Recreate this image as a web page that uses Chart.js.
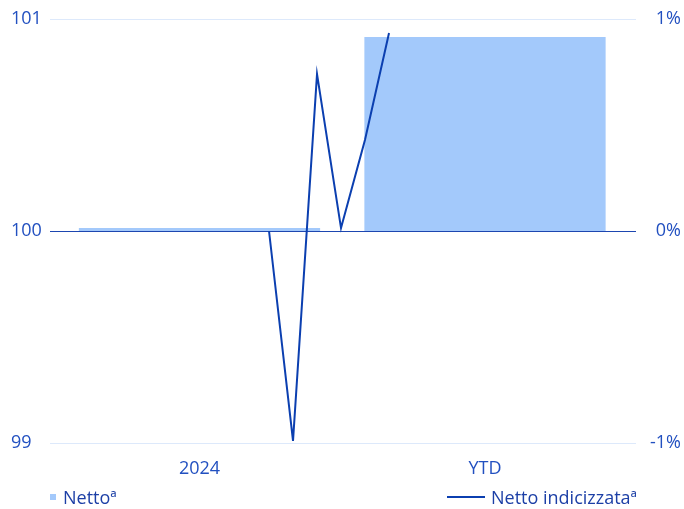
<!DOCTYPE html>
<html>
<head>
<meta charset="utf-8">
<script src="https://cdn.jsdelivr.net/npm/chart.js@4"></script>
<style>
  body { margin: 0; background: #fff; }
  #wrap { position: relative; width: 684px; height: 509px; font-family: "Open Sans", sans-serif; }
  .leg { position: absolute; font-size: 18px; color: #1c3fa6; line-height: 22px; top: 486px; }
  .sq { position: absolute; left: 50px; top: 494px; width: 6px; height: 6px; background: #a3c9fb; }
  .ln { position: absolute; left: 447px; top: 496px; width: 38px; height: 2px; background: #0b3fb0; }
</style>
</head>
<body>
<div id="wrap">
  <canvas id="c" width="684" height="509"></canvas>
  <div class="sq"></div>
  <div class="leg" style="left:63px">Netto&#170;</div>
  <div class="ln"></div>
  <div class="leg" style="left:491px">Netto indicizzata&#170;</div>
</div>
<script>
// categorie e valori
const barCats = ['2024', 'YTD'];
const nettoPct = [0.014, 0.915];            // barre, asse destro (%)
const lineSteps = [0, 1, 2, 3, 4, 5];        // punti della linea
const indicizzata = [100.0, 99.01, 100.74, 100.014, 100.43, 100.934]; // asse sinistro
const leftTicks = [99, 100, 101];
const rightTicks = [-1, 0, 1];

const tickColor = '#2250c0';
const tickFont = { family: 'Open Sans', size: 18 };

new Chart(document.getElementById('c'), {
  type: 'bar',
  data: {
    datasets: [
      {
        type: 'line',
        label: 'Netto indicizzata',
        data: lineSteps.map((s, i) => ({ x: s, y: indicizzata[i] })),
        xAxisID: 'x2',
        yAxisID: 'y',
        borderColor: '#0b3fb0',
        borderWidth: 2,
        pointRadius: 0,
        tension: 0
      },
      {
        type: 'bar',
        label: 'Netto',
        data: barCats.map((c, i) => ({ x: i, y: nettoPct[i] })),
        xAxisID: 'x',
        yAxisID: 'y1',
        grouped: false,
        backgroundColor: '#a3c9fb',
        categoryPercentage: 1,
        barPercentage: 0.845
      }
    ]
  },
  options: {
    responsive: false,
    animation: false,
    layout: { padding: { top: 19, left: 11, right: 3, bottom: 26 } },
    plugins: { legend: { display: false }, tooltip: { enabled: false } },
    scales: {
      x: {
        type: 'linear',
        offset: false,
        min: -0.5236,
        max: 1.5289,
        afterBuildTicks: axis => { axis.ticks = barCats.map((c, i) => ({ value: i })); },
        afterFit: axis => { axis.height = 40; },
        grid: { display: false, offset: false },
        border: { display: false },
        ticks: {
          color: tickColor, font: tickFont, padding: 7, maxRotation: 0,
          callback: v => barCats[v]
        }
      },
      x2: {
        type: 'linear',
        display: false,
        offset: false,
        min: -9.125,
        max: 15.29
      },
      y: {
        position: 'left',
        min: 99,
        max: 101,
        afterBuildTicks: axis => { axis.ticks = leftTicks.map(v => ({ value: v })); },
        afterFit: axis => { axis.width = 39; },
        border: { display: false },
        grid: {
          drawTicks: false,
          color: ctx => ctx.tick && ctx.tick.value === 100 ? '#1d46b0' : '#dde9fb',
          lineWidth: 1
        },
        ticks: { color: tickColor, font: tickFont, crossAlign: 'far', padding: 0 }
      },
      y1: {
        position: 'right',
        min: -1,
        max: 1,
        afterBuildTicks: axis => { axis.ticks = rightTicks.map(v => ({ value: v })); },
        afterFit: axis => { axis.width = 45; },
        border: { display: false },
        grid: { display: false },
        ticks: {
          color: tickColor, font: tickFont, crossAlign: 'far', padding: 0,
          callback: v => v + '%'
        }
      }
    }
  }
});
</script>
</body>
</html>
